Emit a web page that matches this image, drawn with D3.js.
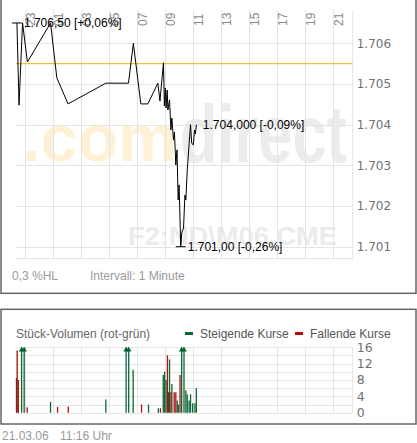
<!DOCTYPE html>
<html><head><meta charset="utf-8">
<script src="https://cdn.jsdelivr.net/npm/d3@7"></script>
<style>
body{margin:0;background:#fff;}
svg{display:block;font-family:"Liberation Sans",Arial,sans-serif;}
</style>
</head><body>
<svg id="c" width="417" height="443"></svg>
<script>
// ---------- data ----------
const priceTimes = ["2006-03-20 22:27","2006-03-20 22:36","2006-03-20 22:51","2006-03-20 23:12","2006-03-21 00:51",
  "2006-03-21 01:18","2006-03-21 02:06","2006-03-21 04:48","2006-03-21 06:25","2006-03-21 06:46",
  "2006-03-21 07:18","2006-03-21 07:48","2006-03-21 08:31","2006-03-21 08:40","2006-03-21 08:55",
  "2006-03-21 08:59","2006-03-21 09:03","2006-03-21 09:06","2006-03-21 09:11","2006-03-21 09:14",
  "2006-03-21 09:21","2006-03-21 09:27","2006-03-21 09:31","2006-03-21 09:38","2006-03-21 09:42",
  "2006-03-21 09:48","2006-03-21 09:53","2006-03-21 09:58","2006-03-21 10:02","2006-03-21 10:09",
  "2006-03-21 10:14","2006-03-21 10:21","2006-03-21 10:27","2006-03-21 10:31","2006-03-21 10:37",
  "2006-03-21 10:41","2006-03-21 10:46","2006-03-21 10:51","2006-03-21 10:56","2006-03-21 11:03",
  "2006-03-21 11:08","2006-03-21 11:12","2006-03-21 11:16"];
const priceValues = [1706.50,1704.48,1706.50,1705.54,1706.50,
  1705.15,1704.51,1705.02,1705.02,1706.00,
  1704.51,1704.51,1705.02,1704.58,1705.52,
  1704.46,1704.90,1704.41,1704.85,1704.36,
  1704.61,1703.87,1704.16,1703.62,1703.82,
  1703.01,1703.38,1702.15,1702.52,1701.00,
  1701.36,1701.46,1702.27,1702.15,1702.89,
  1703.20,1703.62,1704.00,1703.55,1703.50,
  1703.87,1703.77,1704.00];
const prevClose = 1705.5;
const xTickTimes = ["2006-03-20 23:00","2006-03-21 01:00","2006-03-21 03:00","2006-03-21 05:00","2006-03-21 07:00",
  "2006-03-21 09:00","2006-03-21 11:00","2006-03-21 13:00","2006-03-21 15:00","2006-03-21 17:00",
  "2006-03-21 19:00","2006-03-21 21:00"];
const yTicks = [1701,1702,1703,1704,1705,1706];

const volTimes = ["2006-03-20 22:25","2006-03-20 22:28","2006-03-20 22:33","2006-03-20 22:47","2006-03-20 22:58",
  "2006-03-20 23:11","2006-03-21 00:51","2006-03-21 01:21","2006-03-21 02:07","2006-03-21 04:48",
  "2006-03-21 06:15","2006-03-21 06:26","2006-03-21 06:45","2006-03-21 07:21","2006-03-21 07:51",
  "2006-03-21 08:33","2006-03-21 08:42","2006-03-21 08:54","2006-03-21 09:00","2006-03-21 09:06",
  "2006-03-21 09:12","2006-03-21 09:16","2006-03-21 09:21","2006-03-21 09:27","2006-03-21 09:31",
  "2006-03-21 09:41","2006-03-21 09:48","2006-03-21 09:54","2006-03-21 09:59","2006-03-21 10:06",
  "2006-03-21 10:13","2006-03-21 10:23","2006-03-21 10:31","2006-03-21 10:37","2006-03-21 10:45",
  "2006-03-21 10:51","2006-03-21 11:00","2006-03-21 11:10","2006-03-21 11:16"];
const volValues = [8.5,15.2,8,20,20,
  1.3,2.6,1.4,1.5,3.2,
  20,20,10.5,2,2,
  1.1,1.1,9.2,10,8,
  14,5,13,5,7,
  5,5,3,2,9.2,
  20,20,5.5,4.5,3,
  4.5,2.3,2.3,6];
const volDir = ["+","-","-","+","+",
  "-","+","-","-","+",
  "+","+","+","-","+",
  "+","-","+","+","+",
  "-","-","+","-","+",
  "-","-","+","+","-",
  "+","+","+","+","+",
  "+","+","+","+"];
const volTicks = [0,4,8,12,16];
const volGrid = [0,2,4,6,8,10,12,14,16];

// ---------- setup ----------
const parse = d3.timeParse("%Y-%m-%d %H:%M");
const de = d3.formatLocale({decimal:",", thousands:".", grouping:[3], currency:["","€"], minus:"-"});
const fmtAxis = de.format(",.0f"), fmt2 = de.format(",.2f"), fmt3 = de.format(",.3f"), fmtPct = de.format("+.2f");
const svg = d3.select("#c");

const L = 16, R = 352.7;
const x = d3.scaleTime().domain([parse("2006-03-20 22:23"), parse("2006-03-21 22:26")]).range([L, R]);
const y = d3.scaleLinear().domain([1700.722, 1706.819]).range([258, 10]);
const yv = d3.scaleLinear().domain([0, 16]).range([412.7, 347.1]);

const gridC = "#e4e4e4", green = "#0b6636", red = "#b30d0d";

// panel frames
svg.append("rect").attr("x",1).attr("y",-3).attr("width",415).attr("height",296.3)
  .attr("fill","none").attr("stroke","#666").attr("stroke-width",1.5);
svg.append("rect").attr("x",1).attr("y",309.3).attr("width",415).attr("height",114.7)
  .attr("fill","none").attr("stroke","#666").attr("stroke-width",1.5);

// watermark
svg.append("text").attr("x",22).attr("y",161).attr("font-size",66).attr("font-weight","bold")
  .attr("fill","#fff1d6").attr("textLength",155).attr("lengthAdjust","spacingAndGlyphs").text(".com");
svg.append("text").attr("x",180).attr("y",162).attr("font-size",82).attr("font-weight","bold")
  .attr("fill","#ececec").attr("textLength",167).attr("lengthAdjust","spacingAndGlyphs").text("direct");
svg.append("text").attr("x",128).attr("y",245).attr("font-size",25).attr("font-weight","bold")
  .attr("fill","#ebebeb").attr("textLength",209).attr("lengthAdjust","spacingAndGlyphs").text("F2:ND\\M06.CME");

// ---------- price panel ----------
const xt = xTickTimes.map(parse);
const gp = svg.append("g");
gp.selectAll(".vg").data(xt).join("line")
  .attr("x1",d=>Math.round(x(d))+0.5).attr("x2",d=>Math.round(x(d))+0.5).attr("y1",10).attr("y2",258)
  .attr("stroke",gridC);
gp.selectAll(".hg").data(yTicks).join("line")
  .attr("x1",L).attr("x2",R).attr("y1",d=>Math.round(y(d))+0.5).attr("y2",d=>Math.round(y(d))+0.5)
  .attr("stroke",gridC);
gp.append("line").attr("x1",L).attr("x2",R).attr("y1",258.5).attr("y2",258.5).attr("stroke",gridC);
gp.append("line").attr("x1",R).attr("x2",R).attr("y1",10).attr("y2",258.5).attr("stroke",gridC);

// x tick labels (rotated)
gp.selectAll(".xl").data(xt).join("text")
  .attr("transform",d=>`translate(${x(d)+10},26) rotate(-90)`)
  .attr("font-size",12).attr("fill","#8a8a8a").text(d3.timeFormat("%H"));

// y axis
const ya = gp.append("g").attr("transform",`translate(${R},0)`)
  .call(d3.axisRight(y).tickValues(yTicks).tickSize(0).tickPadding(4).tickFormat(fmtAxis));
ya.select(".domain").remove();
ya.selectAll("text").attr("font-family","'DejaVu Sans',sans-serif").attr("font-size",12).attr("fill","#707070");

// previous close
gp.append("line").attr("x1",L).attr("x2",R).attr("y1",y(prevClose)).attr("y2",y(prevClose))
  .attr("stroke","#ecc23a").attr("stroke-width",1.2);

// price line
const pts = priceTimes.map((t,i)=>({t:parse(t), v:priceValues[i]}));
gp.append("path").datum(pts).attr("fill","none").attr("stroke","#000").attr("stroke-width",1)
  .attr("d",d3.line().x(d=>x(d.t)).y(d=>y(d.v)));

const pctStr = v => fmtPct((v/prevClose-1)*100) + "%";
const hi = pts[d3.maxIndex(pts,d=>d.v)], lo = pts[d3.minIndex(pts,d=>d.v)], last = pts[pts.length-1];
[hi, lo].forEach(p=>{
  gp.append("line").attr("x1",x(p.t)-5).attr("x2",x(p.t)+5).attr("y1",y(p.v)).attr("y2",y(p.v)).attr("stroke","#000");
  gp.append("text").attr("x",x(p.t)+7).attr("y",y(p.v)).attr("dy","0.36em").attr("font-size",12).attr("fill","#000")
    .text(fmt2(p.v)+" ["+pctStr(p.v)+"]");
});
gp.append("text").attr("x",x(last.t)+6.5).attr("y",y(last.v)).attr("dy","0.36em").attr("font-size",12).attr("fill","#000")
  .text(fmt3(last.v)+" ["+pctStr(last.v)+"]");

// footer texts of price panel
gp.append("text").attr("x",12).attr("y",280).attr("font-size",12).attr("fill","#9a9a9a").text("0,3 %HL");
gp.append("text").attr("x",90).attr("y",280).attr("font-size",12).attr("fill","#9a9a9a").text("Intervall: 1 Minute");

// ---------- volume panel ----------
const gv = svg.append("g");
gv.selectAll(".vg").data(xt).join("line")
  .attr("x1",d=>Math.round(x(d))+0.5).attr("x2",d=>Math.round(x(d))+0.5).attr("y1",yv(16)).attr("y2",yv(0))
  .attr("stroke",gridC);
gv.selectAll(".hg").data(volGrid).join("line")
  .attr("x1",L).attr("x2",R).attr("y1",d=>Math.round(yv(d))+0.5).attr("y2",d=>Math.round(yv(d))+0.5)
  .attr("stroke",gridC);
gv.append("line").attr("x1",R).attr("x2",R).attr("y1",yv(16)).attr("y2",yv(0)).attr("stroke",gridC);

const va = gv.append("g").attr("transform",`translate(${R},0)`)
  .call(d3.axisRight(yv).tickValues(volTicks).tickSize(0).tickPadding(4));
va.select(".domain").remove();
va.selectAll("text").attr("font-family","'DejaVu Sans',sans-serif").attr("font-size",12.5).attr("fill","#707070");

const vols = volTimes.map((t,i)=>({t:parse(t), v:volValues[i], up:volDir[i]==="+"}));
gv.selectAll(".bar").data(vols).join("line")
  .attr("x1",d=>x(d.t)).attr("x2",d=>x(d.t)).attr("y1",yv(0)).attr("y2",d=>yv(Math.min(d.v,16))+ (d.v>16?3:0))
  .attr("stroke",d=>d.up?green:red).attr("stroke-width",1.3);
gv.selectAll(".arr").data(vols.filter(d=>d.v>16)).join("path")
  .attr("d",d=>{const cx=x(d.t), t=yv(16)-0.5; return `M${cx-2.8},${t+5}L${cx},${t}L${cx+2.8},${t+5}Z`;})
  .attr("fill",d=>d.up?green:red);

// title + legend
gv.append("text").attr("x",16).attr("y",337.5).attr("font-size",12).attr("fill","#666").text("Stück-Volumen (rot-grün)");
gv.append("rect").attr("x",185).attr("y",332).attr("width",8).attr("height",3).attr("fill",green);
gv.append("text").attr("x",200).attr("y",337.5).attr("font-size",12).attr("fill","#555").text("Steigende Kurse");
gv.append("rect").attr("x",295).attr("y",332).attr("width",8).attr("height",3).attr("fill",red);
gv.append("text").attr("x",310).attr("y",337.5).attr("font-size",12).attr("fill","#555").text("Fallende Kurse");

// date
svg.append("text").attr("x",2).attr("y",440).attr("font-size",12).attr("fill","#9a9a9a").text("21.03.06");
svg.append("text").attr("x",60).attr("y",440).attr("font-size",12).attr("fill","#9a9a9a").text("11:16 Uhr");
</script>
</body></html>
